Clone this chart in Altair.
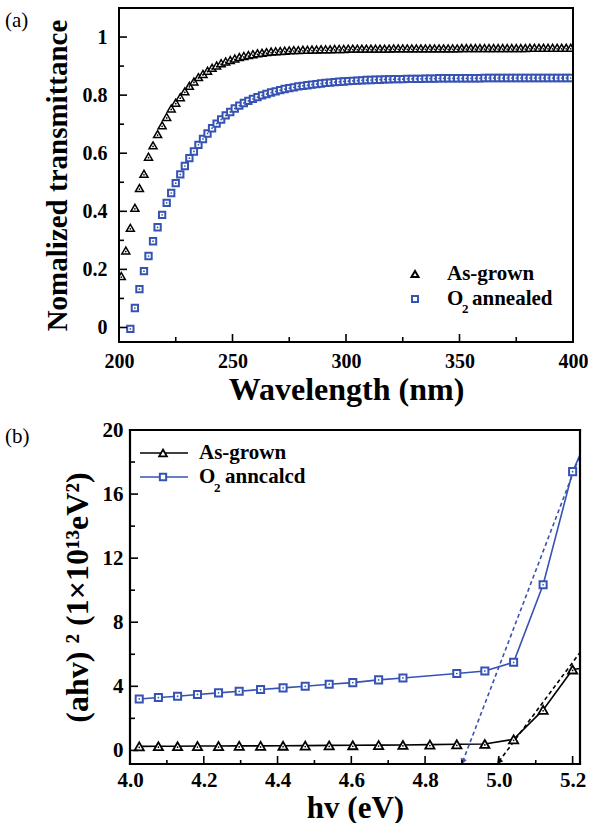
import altair as alt
import pandas as pd

FONT = "Liberation Serif"
BLUE = "#3653b3"

# ---------------- panel (a) data ----------------
wl_asgrown = [201, 203, 205, 207, 209, 211, 213, 215, 217, 219,
              221, 223, 225, 227, 229, 231, 233, 235, 237, 239,
              241, 243, 245, 247, 249, 251, 253, 255, 257, 259,
              261, 263, 265, 267, 269, 271, 273, 275, 277, 279,
              281, 283, 285, 287, 289, 291, 293, 295, 297, 299,
              301, 303, 305, 307, 309, 311, 313, 315, 317, 319,
              321, 323, 325, 327, 329, 331, 333, 335, 337, 339,
              341, 343, 345, 347, 349, 351, 353, 355, 357, 359,
              361, 363, 365, 367, 369, 371, 373, 375, 377, 379,
              381, 383, 385, 387, 389, 391, 393, 395, 397, 399]
t_asgrown = [0.177, 0.265, 0.343, 0.412, 0.480, 0.529, 0.588, 0.627, 0.666, 0.696,
             0.725, 0.754, 0.774, 0.793, 0.813, 0.832, 0.847, 0.862, 0.873, 0.884,
             0.894, 0.902, 0.910, 0.916, 0.921, 0.926, 0.931, 0.935, 0.938, 0.941,
             0.944, 0.946, 0.948, 0.950, 0.951, 0.952, 0.953, 0.954, 0.955, 0.955,
             0.956, 0.956, 0.957, 0.957, 0.958, 0.958, 0.958, 0.959, 0.959, 0.959,
             0.960, 0.960, 0.960, 0.960, 0.960, 0.960, 0.960, 0.960, 0.960, 0.960,
             0.961, 0.961, 0.961, 0.961, 0.961, 0.961, 0.961, 0.961, 0.961, 0.961,
             0.961, 0.961, 0.961, 0.961, 0.961, 0.962, 0.962, 0.962, 0.962, 0.962,
             0.962, 0.962, 0.962, 0.962, 0.962, 0.962, 0.962, 0.962, 0.962, 0.962,
             0.963, 0.963, 0.963, 0.963, 0.963, 0.963, 0.963, 0.963, 0.963, 0.963]

wl_o2 = [205, 207, 209, 211, 213, 215, 217, 219,
         221, 223, 225, 227, 229, 231, 233, 235, 237, 239,
         241, 243, 245, 247, 249, 251, 253, 255, 257, 259,
         261, 263, 265, 267, 269, 271, 273, 275, 277, 279,
         281, 283, 285, 287, 289, 291, 293, 295, 297, 299,
         301, 303, 305, 307, 309, 311, 313, 315, 317, 319,
         321, 323, 325, 327, 329, 331, 333, 335, 337, 339,
         341, 343, 345, 347, 349, 351, 353, 355, 357, 359,
         361, 363, 365, 367, 369, 371, 373, 375, 377, 379,
         381, 383, 385, 387, 389, 391, 393, 395, 397, 399]
t_o2 = [-0.005, 0.067, 0.132, 0.194, 0.246, 0.297, 0.345, 0.388,
        0.429, 0.463, 0.497, 0.527, 0.556, 0.583, 0.606, 0.629, 0.649, 0.668,
        0.686, 0.702, 0.716, 0.730, 0.742, 0.754, 0.764, 0.773, 0.780, 0.787,
        0.793, 0.799, 0.804, 0.809, 0.813, 0.817, 0.821, 0.824, 0.827, 0.830,
        0.832, 0.834, 0.836, 0.838, 0.840, 0.842, 0.843, 0.845, 0.846, 0.847,
        0.848, 0.849, 0.850, 0.851, 0.852, 0.852, 0.853, 0.853, 0.854, 0.854,
        0.855, 0.855, 0.855, 0.856, 0.856, 0.856, 0.856, 0.857, 0.857, 0.857,
        0.858, 0.858, 0.858, 0.858, 0.858, 0.858, 0.858, 0.858, 0.858, 0.858,
        0.859, 0.859, 0.859, 0.859, 0.859, 0.859, 0.859, 0.859, 0.859, 0.859,
        0.859, 0.859, 0.859, 0.859, 0.859, 0.859, 0.859, 0.859, 0.859, 0.859]

a_x_labels = [200, 250, 300, 350, 400]
a_x_minor = [225, 275, 325, 375]
a_y_labels = [0, 0.2, 0.4, 0.6, 0.8, 1]
a_y_minor = [0.1, 0.3, 0.5, 0.7, 0.9]

# ---------------- panel (b) data ----------------
e_asgrown = [4.025, 4.077, 4.129, 4.183, 4.24, 4.296, 4.354, 4.415, 4.475, 4.54,
             4.604, 4.674, 4.74, 4.813, 4.886, 4.962, 5.04, 5.12, 5.20, 5.28]
v_asgrown = [0.25, 0.26, 0.26, 0.27, 0.27, 0.28, 0.28, 0.29, 0.30, 0.31,
             0.32, 0.33, 0.34, 0.36, 0.38, 0.40, 0.69, 2.53, 5.05, 5.30]
e_o2 = [4.025, 4.077, 4.129, 4.183, 4.24, 4.296, 4.354, 4.415, 4.475, 4.54,
        4.604, 4.674, 4.74, 4.886, 4.962, 5.04, 5.12, 5.20, 5.28]
v_o2 = [3.21, 3.30, 3.38, 3.49, 3.59, 3.69, 3.80, 3.90, 4.00, 4.13,
        4.23, 4.40, 4.52, 4.80, 4.96, 5.50, 10.34, 17.40, 21.6]

fit_blue_x = [5.22, 4.902]
fit_blue_y = [18.44, -0.70]
fit_black_x = [5.219, 5.0]
fit_black_y = [6.08, -0.70]

b_x_labels = [4.0, 4.2, 4.4, 4.6, 4.8, 5.0, 5.2]
b_x_minor = [4.1, 4.3, 4.5, 4.7, 4.9, 5.1]
b_y_labels = [0, 4, 8, 12, 16, 20]
b_y_minor = [2, 6, 10, 14, 18]

legend_a = ["As-grown", "O", "2", "annealed"]
legend_b = ["As-grown", "O", "2", "anncalcd"]

# ---------------- helpers ----------------
def txt(s, x, y, size, weight="bold", align="left", baseline="middle"):
    return alt.Chart(pd.DataFrame({"t": [s]})).mark_text(
        font=FONT, fontSize=size, fontWeight=weight, align=align,
        baseline=baseline, color="black").encode(
        x=alt.value(x), y=alt.value(y), text="t:N")


def one_row():
    return alt.Chart(pd.DataFrame({"k": [0]}))


def yticks(vals, yenc, x0, length):
    return alt.Chart(pd.DataFrame({"y": vals})).mark_rule(color="black", strokeWidth=1.6).encode(
        y=yenc, x=alt.value(x0), x2=alt.value(x0 + length))


def xticks(vals, xenc, length, h):
    return alt.Chart(pd.DataFrame({"x": vals})).mark_rule(color="black", strokeWidth=1.6).encode(
        x=xenc, y=alt.value(h), y2=alt.value(h - length))


def frame(x0, x1, y0, y1, width):
    segs = []
    segs.append(one_row().mark_rule(color="black", strokeWidth=width, strokeCap="square").encode(
        x=alt.value(x0), y=alt.value(y0), y2=alt.value(y1)))
    segs.append(one_row().mark_rule(color="black", strokeWidth=width, strokeCap="square").encode(
        x=alt.value(x1), y=alt.value(y0), y2=alt.value(y1)))
    segs.append(one_row().mark_rule(color="black", strokeWidth=width, strokeCap="square").encode(
        y=alt.value(y0), x=alt.value(x0), x2=alt.value(x1)))
    segs.append(one_row().mark_rule(color="black", strokeWidth=width, strokeCap="square").encode(
        y=alt.value(y1), x=alt.value(x0), x2=alt.value(x1)))
    return segs


# ---------------- panel (a) ----------------
WA, HA = 454, 334
xsa = alt.Scale(domain=[200, 400], nice=False, zero=False)
ysa = alt.Scale(domain=[-0.05, 1.1], nice=False, zero=False)

xa_axis = alt.Axis(values=a_x_labels, format="d", ticks=False, domain=False, grid=False,
                   labelFont=FONT, labelFontSize=20, labelFontWeight="bold", labelColor="black",
                   labelPadding=9, labelFlush=False, labelOverlap=False,
                   title="Wavelength (nm)", titleFont=FONT, titleFontSize=32,
                   titleFontWeight="bold", titleColor="black", titlePadding=3)
ya_axis = alt.Axis(values=a_y_labels, format="~g", ticks=False, domain=False, grid=False,
                   labelFont=FONT, labelFontSize=20, labelFontWeight="bold", labelColor="black",
                   labelPadding=12, labelFlush=False, labelOverlap=False,
                   title="Nomalized transmittance", titleFont=FONT, titleFontSize=29,
                   titleFontWeight="bold", titleColor="black", titlePadding=10)
XA = alt.X("x:Q", scale=xsa, axis=xa_axis)
YA = alt.Y("y:Q", scale=ysa, axis=ya_axis)

df_a1 = pd.DataFrame({"x": wl_asgrown, "y": t_asgrown})
df_a2 = pd.DataFrame({"x": wl_o2, "y": t_o2})

a_tri = alt.Chart(df_a1).mark_point(shape="triangle-up", filled=True, fill="white", stroke="black",
                                    strokeWidth=1.5, size=64, opacity=1, clip=True).encode(x=XA, y=YA)
a_tri_dot = alt.Chart(df_a1).mark_circle(color="black", size=3, opacity=1, clip=True, yOffset=1).encode(
    x=XA, y=YA)
a_sq = alt.Chart(df_a2).mark_point(shape="square", filled=True, fill="white", stroke=BLUE,
                                   strokeWidth=2, size=40, opacity=1, clip=True).encode(x=XA, y=YA)
a_sq_dot = alt.Chart(df_a2).mark_circle(color=BLUE, size=3, opacity=1, clip=True).encode(x=XA, y=YA)

a_leg_tri = one_row().mark_point(shape="triangle-up", filled=True, fill="white", stroke="black",
                                 strokeWidth=2, size=50, opacity=1).encode(
    x=alt.value(296), y=alt.value(266))
a_leg_sq = one_row().mark_point(shape="square", filled=True, fill="white", stroke=BLUE,
                                strokeWidth=2, size=36, opacity=1).encode(
    x=alt.value(296), y=alt.value(291))

panel_a = alt.layer(
    a_tri, a_tri_dot, a_sq, a_sq_dot,
    yticks(a_y_labels, YA, 0, 8), yticks(a_y_minor, YA, 0, 5),
    xticks(a_x_labels, XA, 8, HA), xticks(a_x_minor, XA, 5, HA),
    *frame(0, WA, 0, HA, 2),
    a_leg_tri, a_leg_sq,
    txt(legend_a[0], 328, 266, 21),
    txt(legend_a[1], 328, 291, 21),
    txt(legend_a[2], 343, 301, 13),
    txt(legend_a[3], 353, 291, 21),
    txt("(a)", -114, 2, 21, weight="normal", baseline="top"),
).properties(width=WA, height=HA)

# ---------------- panel (b) ----------------
OFF = 11
WB, HB = 461, 334
xsb = alt.Scale(domain=[4.0, 5.22], range=[OFF, WB], nice=False, zero=False)
ysb = alt.Scale(domain=[-0.85, 20], nice=False, zero=False)

xb_axis = alt.Axis(values=b_x_labels, format=".1f", ticks=False, domain=False, grid=False,
                   labelFont=FONT, labelFontSize=21, labelFontWeight="bold", labelColor="black",
                   labelPadding=5, labelFlush=False, labelOverlap=False,
                   title="hv (eV)", titleFont=FONT, titleFontSize=31,
                   titleFontWeight="bold", titleColor="black", titlePadding=3)
yb_axis = alt.Axis(values=b_y_labels, format="d", ticks=False, domain=False, grid=False,
                   labelFont=FONT, labelFontSize=21, labelFontWeight="bold", labelColor="black",
                   labelPadding=7, labelFlush=False, labelOverlap=False, offset=-OFF,
                   title="(ahv) ²  (1×10¹³eV²)", titleFont=FONT, titleFontSize=32,
                   titleFontWeight="bold", titleColor="black", titlePadding=8)
XB = alt.X("x:Q", scale=xsb, axis=xb_axis)
YB = alt.Y("y:Q", scale=ysb, axis=yb_axis)

df_b1 = pd.DataFrame({"x": e_asgrown, "y": v_asgrown})
df_b2 = pd.DataFrame({"x": e_o2, "y": v_o2})
df_fb = pd.DataFrame({"x": fit_blue_x, "y": fit_blue_y})
df_fk = pd.DataFrame({"x": fit_black_x, "y": fit_black_y})

b_line1 = alt.Chart(df_b1).mark_line(color="black", strokeWidth=1.6, clip=True).encode(x=XB, y=YB)
b_line2 = alt.Chart(df_b2).mark_line(color=BLUE, strokeWidth=1.6, clip=True).encode(x=XB, y=YB)
b_fit_blue = alt.Chart(df_fb).mark_line(color=BLUE, strokeWidth=1.6, strokeDash=[4, 3], clip=True).encode(
    x=XB, y=YB)
b_fit_black = alt.Chart(df_fk).mark_line(color="black", strokeWidth=1.6, strokeDash=[4, 3], clip=True).encode(
    x=XB, y=YB)
b_head_blue = alt.Chart(df_fb.iloc[[1]]).mark_point(shape="triangle-up", filled=True, color=BLUE,
                                                    size=45, angle=201, opacity=1).encode(x=XB, y=YB)
b_head_black = alt.Chart(df_fk.iloc[[1]]).mark_point(shape="triangle-up", filled=True, color="black",
                                                     size=45, angle=216, opacity=1).encode(x=XB, y=YB)
b_tri = alt.Chart(df_b1).mark_point(shape="triangle-up", filled=True, fill="white", stroke="black",
                                    strokeWidth=1.8, size=85, opacity=1, clip=True).encode(x=XB, y=YB)
b_tri_dot = alt.Chart(df_b1).mark_circle(color="black", size=3, opacity=1, clip=True, yOffset=1).encode(
    x=XB, y=YB)
b_sq = alt.Chart(df_b2).mark_point(shape="square", filled=True, fill="white", stroke=BLUE,
                                   strokeWidth=2, size=50, opacity=1, clip=True).encode(x=XB, y=YB)
b_sq_dot = alt.Chart(df_b2).mark_circle(color=BLUE, size=3, opacity=1, clip=True).encode(x=XB, y=YB)

b_leg_l1 = one_row().mark_rule(color="black", strokeWidth=1.6).encode(
    x=alt.value(OFF + 10), x2=alt.value(OFF + 58), y=alt.value(23))
b_leg_l2 = one_row().mark_rule(color=BLUE, strokeWidth=1.6).encode(
    x=alt.value(OFF + 10), x2=alt.value(OFF + 58), y=alt.value(47))
b_leg_tri = one_row().mark_point(shape="triangle-up", filled=True, fill="white", stroke="black",
                                 strokeWidth=1.8, size=60, opacity=1).encode(
    x=alt.value(OFF + 33), y=alt.value(23))
b_leg_sq = one_row().mark_point(shape="square", filled=True, fill="white", stroke=BLUE,
                                strokeWidth=2, size=40, opacity=1).encode(
    x=alt.value(OFF + 33), y=alt.value(47))

panel_b = alt.layer(
    b_line1, b_line2, b_fit_blue, b_fit_black, b_head_blue, b_head_black,
    b_tri, b_tri_dot, b_sq, b_sq_dot,
    yticks(b_y_labels, YB, OFF, 8), yticks(b_y_minor, YB, OFF, 5),
    xticks(b_x_labels, XB, 8, HB), xticks(b_x_minor, XB, 4, HB),
    *frame(OFF, WB, 0, HB, 2.2),
    b_leg_l1, b_leg_l2, b_leg_tri, b_leg_sq,
    txt(legend_b[0], OFF + 69, 23, 21),
    txt(legend_b[1], OFF + 69, 47, 21),
    txt(legend_b[2], OFF + 84, 58, 13),
    txt(legend_b[3], OFF + 95, 47, 21),
    txt("(b)", -114, -4, 21, weight="normal", baseline="top"),
).properties(width=WB, height=HB)

chart = alt.vconcat(panel_a, panel_b, spacing=14).properties(
    padding={"left": 5, "top": 6, "right": 0, "bottom": 0}
).configure(background="white").configure_view(strokeOpacity=0)

chart.save("out.html", embed_options={"renderer": "svg", "actions": False})
